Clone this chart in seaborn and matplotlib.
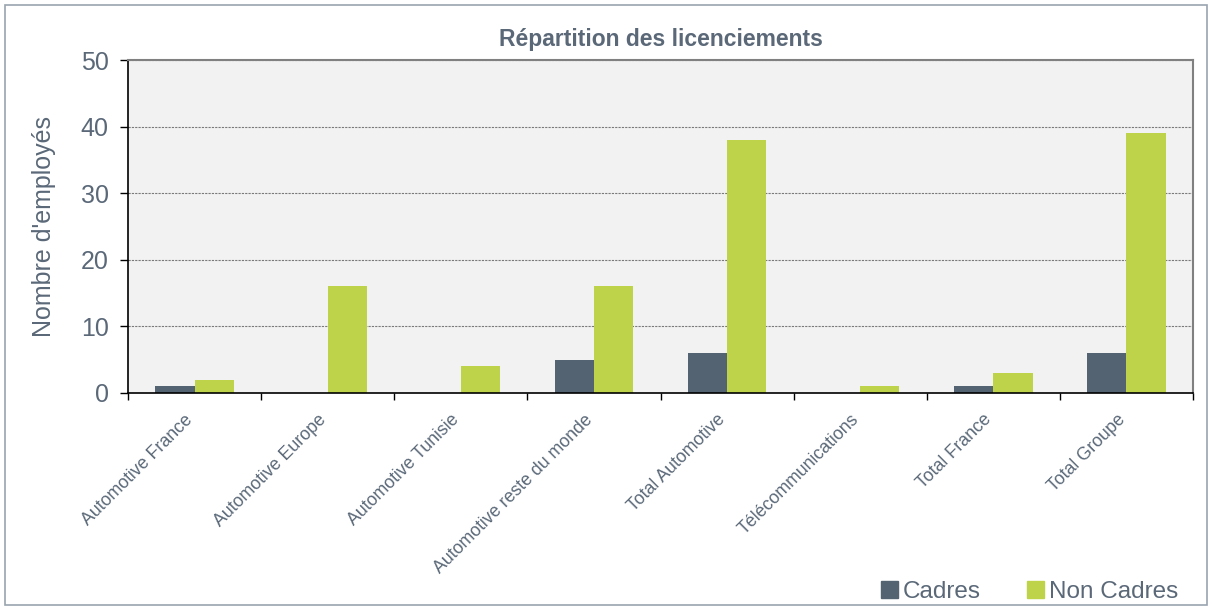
import numpy as np
import pandas as pd
import matplotlib
matplotlib.use("Agg")
import matplotlib.pyplot as plt
import matplotlib.transforms as mtransforms
import seaborn as sns
from matplotlib.patches import Rectangle

categories = [
    "Automotive France", "Automotive Europe", "Automotive Tunisie",
    "Automotive reste du monde", "Total Automotive", "Télécommunications",
    "Total France", "Total Groupe",
]
cadres = [1, 0, 0, 5, 6, 0, 1, 6]
non_cadres = [2, 16, 4, 16, 38, 1, 3, 39]
series_names = ["Cadres", "Non Cadres"]
colors = ["#536372", "#bed349"]

df = pd.DataFrame({
    "categorie": categories * 2,
    "serie": [series_names[0]] * len(categories) + [series_names[1]] * len(categories),
    "valeur": cadres + non_cadres,
})

sns.set_style("white")
plt.rcParams["font.family"] = ["Liberation Sans", "DejaVu Sans"]
text_color = "#5a6878"

fig = plt.figure(figsize=(12.12, 6.10), dpi=100)
ax = fig.add_axes([128 / 1212, 1 - 393 / 610, (1193 - 128) / 1212, (393 - 60) / 610])

sns.barplot(
    data=df, x="categorie", y="valeur", hue="serie",
    palette=colors, width=0.59, dodge=True, ax=ax, legend=False,
    saturation=1, linewidth=0,
)

ax.set_facecolor("#f2f2f2")
ax.set_ylim(0, 50)
ax.set_xlim(-0.5, len(categories) - 0.5)
ax.set_yticks(np.arange(0, 51, 10))
ax.yaxis.grid(True, linestyle=(0, (2, 1)), color="#7a7a7a", linewidth=0.8)
ax.set_axisbelow(True)

for side in ["left", "bottom"]:
    ax.spines[side].set_color("black")
    ax.spines[side].set_linewidth(1.2)
for side in ["top", "right"]:
    ax.spines[side].set_visible(True)
    ax.spines[side].set_color("#808080")
    ax.spines[side].set_linewidth(1.5)

ax.tick_params(axis="y", direction="out", length=6, width=1, color="black",
               labelsize=18, labelcolor=text_color, left=True, pad=8)
ax.tick_params(axis="x", which="major", length=0, labelsize=12.8,
               labelcolor=text_color, pad=13)
ax.set_xticks(np.arange(-0.5, len(categories), 1.0), minor=True)
ax.tick_params(axis="x", which="minor", direction="out", length=5, width=1,
               color="black", bottom=True)
shift = mtransforms.ScaledTranslation(-10 / 100, 0, fig.dpi_scale_trans)
for lbl in ax.get_xticklabels():
    lbl.set_rotation(45)
    lbl.set_ha("right")
    lbl.set_rotation_mode("anchor")
    lbl.set_transform(lbl.get_transform() + shift)

ax.set_xlabel("")
ax.set_ylabel("Nombre d'employés", fontsize=18, color=text_color, labelpad=18)
ax.set_title("Répartition des licenciements", fontsize=16.5, fontweight="bold",
             color=text_color, pad=10)

handles = [Rectangle((0, 0), 1, 1, color=c) for c in colors]
fig.legend(handles, series_names, loc="lower right", bbox_to_anchor=(0.99, -0.025),
           ncol=2, frameon=False, fontsize=17.5, handlelength=0.7, handleheight=0.7,
           handletextpad=0.2, columnspacing=1.9, labelcolor=text_color)

fig.patches.append(Rectangle((5 / 1212, 5 / 610), 1 - 10 / 1212, 1 - 10 / 610,
                             transform=fig.transFigure, fill=False,
                             edgecolor="#9aa4ae", linewidth=1.2))

fig.savefig("out.png", dpi=100)
